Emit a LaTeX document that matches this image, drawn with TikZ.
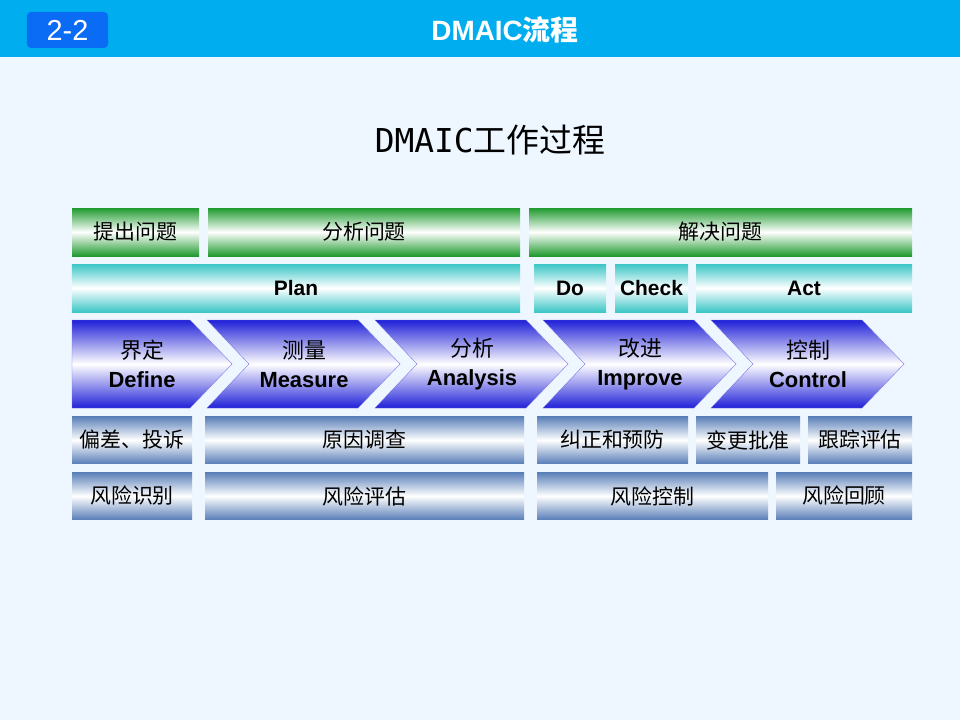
\documentclass[tikz,border=0pt]{standalone}
\usepackage{fontspec}
\setmainfont{Liberation Sans}
\newfontfamily\cjk{Noto Sans CJK SC}
\newfontfamily\monofont{DejaVu Sans Mono}
\usetikzlibrary{positioning}
\definecolor{headblue}{HTML}{00AEEF}
\definecolor{badgeblue}{HTML}{0A6CF5}
\definecolor{pagebg}{HTML}{EEF7FF}
\definecolor{bargreen}{HTML}{1E9A2E}
\definecolor{barcyan}{HTML}{3CC6C6}
\definecolor{barsteel}{HTML}{5A7FB8}
\definecolor{chevblue}{HTML}{2020D8}

\begin{document}
\begin{tikzpicture}[x=1bp,y=-1bp,
    every node/.style={inner sep=0pt,outer sep=0pt},
    bar/.style={shading=axis,middle color=white,shading angle=0,font=\cjk\fontsize{21}{21}\selectfont},
    greenbar/.style={bar,top color=bargreen,bottom color=bargreen,middle color=white,minimum height=48bp},
    cyanbar/.style={bar,top color=barcyan,bottom color=barcyan,middle color=white,minimum height=48bp,font=\bfseries\fontsize{21}{21}\selectfont},
    steelbar/.style={bar,top color=barsteel,bottom color=barsteel,middle color=white,minimum height=47bp},
    chevtext/.style={align=center,font=\bfseries\fontsize{22}{29}\selectfont}]

    % page and header
    \fill[pagebg] (0,0) rectangle (960,720);
    \fill[headblue] (0,0) rectangle (960,57);
    \node[fill=badgeblue,rounded corners=4bp,minimum width=81bp,minimum height=36bp,
          text=white,font=\fontsize{29}{29}\selectfont] (badge) at (67.5,30) {2-2};
    \node[text=white,font=\bfseries\fontsize{28}{28}\selectfont] (head) at (505,30) {DMAIC{\cjk 流程}};
    \node[font=\fontsize{33}{33}\selectfont] (title) at (490,140) {{\monofont DMAIC}{\cjk 工作过程}};

    % row 1
    \node[greenbar,minimum width=127bp] (tichu)  at (135.5,232) {提出问题};
    \node[greenbar,minimum width=312bp] (fenxi)  at (364,232)   {分析问题};
    \node[greenbar,minimum width=383bp] (jiejue) at (720.5,232) {解决问题};

    % row 2
    \node[cyanbar,minimum width=448bp] (plan)  at (296,288) {Plan};
    \node[cyanbar,minimum width=72bp]  (do)    at (570,288) {Do};
    \node[cyanbar,minimum width=73bp]  (check) at (651.5,288) {Check};
    \node[cyanbar,minimum width=216bp] (act)   at (804,288) {Act};

    % chevrons
    \shade[top color=chevblue,bottom color=chevblue,middle color=white,draw=chevblue!60]
      (72,320) -- (190,320) -- (232,364) -- (190,408) -- (72,408) -- cycle;
    \foreach \i in {1,...,4} {
      \pgfmathsetmacro\a{207+168*(\i-1)}
      \pgfmathsetmacro\b{190+168*\i}
      \shade[top color=chevblue,bottom color=chevblue,middle color=white,draw=chevblue!60]
        (\a,320) -- (\b,320) -- (\b+42,364) -- (\b,408) -- (\a,408) -- (\a+42,364) -- cycle;
    }
    \node[chevtext] (define)  at (142,364) {{\cjk\mdseries 界定}\\Define};
    \node[chevtext] (measure) at (304,364) {{\cjk\mdseries 测量}\\Measure};
    \node[chevtext] (analyze) at (472,364) {{\cjk\mdseries 分析}\\Analysis};
    \node[chevtext] (improve) at (640,364) {{\cjk\mdseries 改进}\\Improve};
    \node[chevtext] (control) at (808,364) {{\cjk\mdseries 控制}\\Control};

    % row 4
    \node[steelbar,minimum width=120bp] (piancha) at (132,440)   {偏差、投诉};
    \node[steelbar,minimum width=319bp] (yuanyin) at (364.5,440) {原因调查};
    \node[steelbar,minimum width=151bp] (jiuzheng) at (612.5,440) {纠正和预防};
    \node[steelbar,minimum width=104bp] (biangeng) at (748,440)   {变更批准};
    \node[steelbar,minimum width=104bp] (genzong) at (860,440)   {跟踪评估};

    % row 5
    \node[steelbar,minimum width=120bp] (shibie)  at (132,496)   {风险识别};
    \node[steelbar,minimum width=319bp] (pinggu)  at (364.5,496) {风险评估};
    \node[steelbar,minimum width=231bp] (kongzhi) at (652.5,496) {风险控制};
    \node[steelbar,minimum width=136bp] (huigu)   at (844,496)   {风险回顾};
\end{tikzpicture}
\end{document}
